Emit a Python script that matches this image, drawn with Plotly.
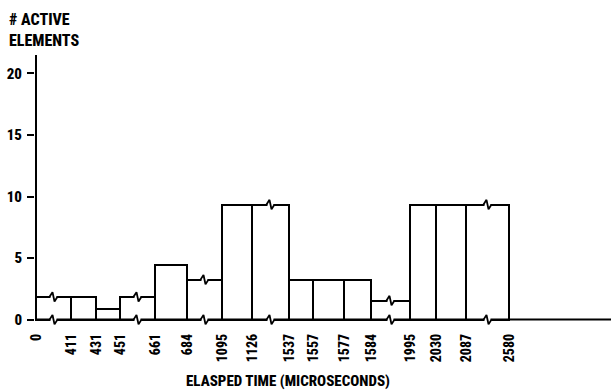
import plotly.graph_objects as go

# Bar edges (positions along the broken time axis, in plot units) and labels
edge_pos = [0, 35, 60, 84, 119, 151, 186, 216, 253, 277, 308, 335, 374, 400, 430, 473]
edge_labels = ["0", "411", "431", "451", "661", "684", "1095", "1126", "1537",
               "1557", "1577", "1584", "1995", "2030", "2087", "2580"]
# number of active elements in each interval
active = [1.85, 1.85, 0.85, 1.85, 4.4, 3.25, 9.35, 9.35, 3.25, 3.25, 3.25, 1.55, 9.35, 9.35, 9.35]
# intervals that contain an axis break
break_bars = [0, 3, 5, 7, 11, 14]
y_ticks = [0, 5, 10, 15, 20]

FONT = "Roboto Condensed, Open Sans Condensed, DejaVu Sans Condensed, sans-serif"
X_MIN, X_MAX = -1, 575
Y_MIN, Y_MAX = -0.6, 21.5

centers = [(edge_pos[i] + edge_pos[i + 1]) / 2 for i in range(len(active))]
widths = [edge_pos[i + 1] - edge_pos[i] for i in range(len(active))]

fig = go.Figure()
fig.add_trace(go.Bar(x=centers, y=active, width=widths, base=0,
                     marker=dict(color="white", line=dict(color="black", width=2)),
                     hoverinfo="skip"))
# axis lines
fig.add_trace(go.Scatter(x=[0, 0], y=[0, Y_MAX], mode="lines",
                         line=dict(color="black", width=2), hoverinfo="skip"))
fig.add_trace(go.Scatter(x=[0, X_MAX], y=[0, 0], mode="lines",
                         line=dict(color="black", width=2), hoverinfo="skip"))

# break marks on bar tops and on the baseline
dx, dy = 3.0, 0.38
for b in break_bars:
    m = centers[b]
    for lvl in (active[b], 0):
        fig.add_trace(go.Scatter(x=[m - dx, m + dx], y=[lvl, lvl], mode="lines",
                                 line=dict(color="white", width=4), hoverinfo="skip"))
        fig.add_trace(go.Scatter(x=[m - dx - 1, m - 1, m + 1, m + dx + 1],
                                 y=[lvl, lvl + dy, lvl - dy, lvl], mode="lines",
                                 line=dict(color="black", width=1.8), hoverinfo="skip"))

plot_h = 265 / 21.5 * (Y_MAX - Y_MIN)
fig.update_layout(
    width=611, height=391,
    margin=dict(l=35, r=0, t=55, b=391 - 55 - plot_h),
    paper_bgcolor="white", plot_bgcolor="white",
    showlegend=False, bargap=0,
    font=dict(family=FONT, color="black", size=14, weight="bold"),
    xaxis=dict(range=[X_MIN, X_MAX], showgrid=False, zeroline=False, showline=False,
               tickmode="array", tickvals=edge_pos, ticktext=edge_labels,
               tickangle=-90, ticks="", ticklabelstandoff=3,
               tickfont=dict(family=FONT, size=14, weight=800)),
    yaxis=dict(range=[Y_MIN, Y_MAX], showgrid=False, zeroline=False, showline=False,
               tickvals=y_ticks, ticks="outside", ticklen=7,
               tickwidth=1.5, tickcolor="black", ticklabelstandoff=2,
               tickfont=dict(family=FONT, size=15, weight=800)),
    annotations=[
        dict(text="# ACTIVE<br>ELEMENTS", xref="paper", yref="paper",
             x=0, y=1, xanchor="left", yanchor="top",
             xshift=-28, yshift=47, align="left", showarrow=False,
             font=dict(family=FONT, size=16, weight=800)),
        dict(text="ELASPED TIME (MICROSECONDS)", xref="x", yref="paper",
             x=252, y=0, xanchor="center", yanchor="middle",
             yshift=-54, showarrow=False, font=dict(family=FONT, size=15, weight=800)),
    ],
)

fig.write_html("out.html")
